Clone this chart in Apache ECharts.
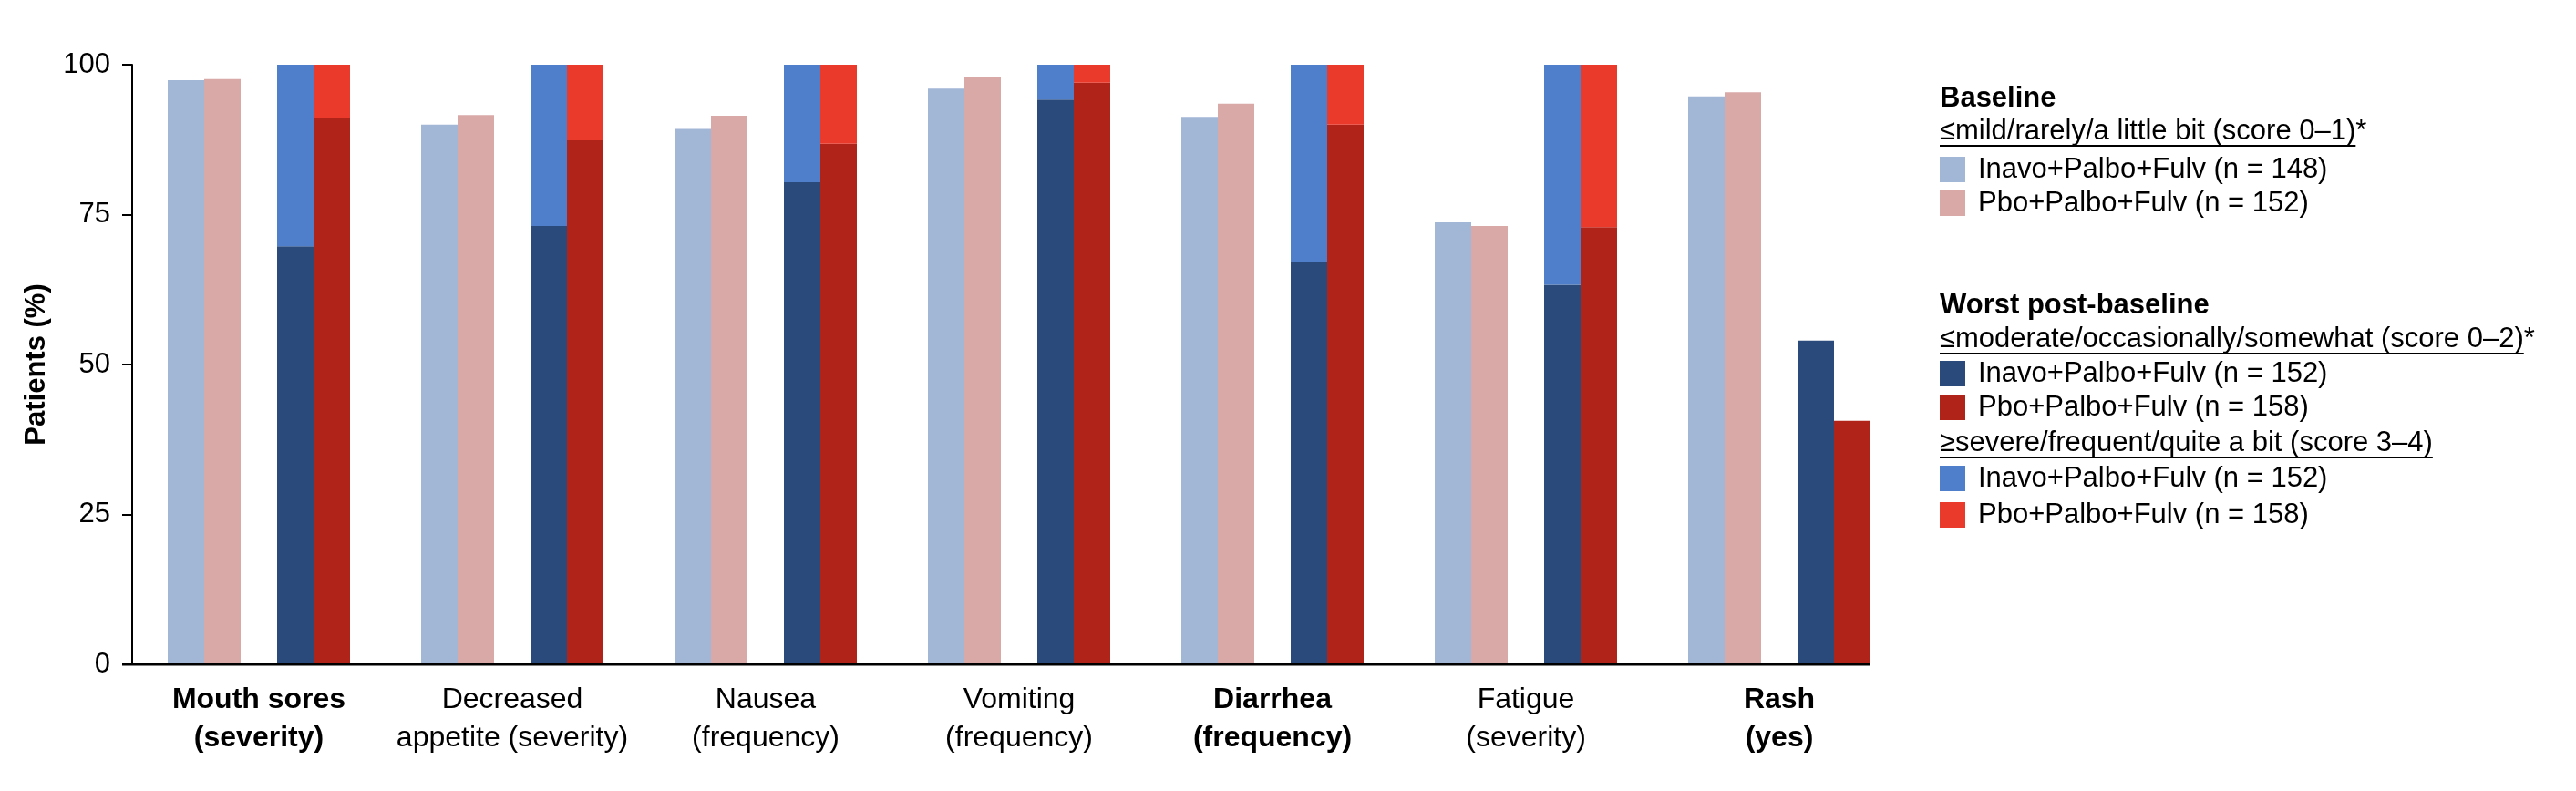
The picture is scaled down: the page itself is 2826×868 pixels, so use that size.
<!DOCTYPE html>
<html>
<head>
<meta charset="utf-8">
<script src="https://cdn.jsdelivr.net/npm/echarts@6/dist/echarts.min.js"></script>
<style>
html,body{margin:0;padding:0;background:#fff;}
#chart{width:2826px;height:868px;}
</style>
</head>
<body>
<div id="chart"></div>
<script>
// ---- data ----
const categories = ['Mouth sores\n(severity)', 'Decreased\nappetite (severity)', 'Nausea\n(frequency)', 'Vomiting\n(frequency)', 'Diarrhea\n(frequency)', 'Fatigue\n(severity)', 'Rash\n(yes)'];
const boldCategories = [true, false, false, false, true, false, true];
const yTicks = [0, 25, 50, 75, 100];
const baselineInavo = [97.4, 90.0, 89.3, 96.0, 91.3, 73.7, 94.7];
const baselinePbo   = [97.6, 91.6, 91.5, 98.0, 93.5, 73.1, 95.4];
const postModInavo  = [69.7, 73.1, 80.4, 94.2, 67.1, 63.3, 54.0];
const postModPbo    = [91.2, 87.4, 86.8, 97.0, 90.0, 72.9, 40.6];
const postSevInavo  = [30.3, 26.9, 19.6, 5.8, 32.9, 36.7, null];
const postSevPbo    = [8.8, 12.6, 13.2, 3.0, 10.0, 27.1, null];
const spacer        = [null, null, null, null, null, null, null];

const nameBI = 'Inavo+Palbo+Fulv (n = 148)';
const nameBP = 'Pbo+Palbo+Fulv (n = 152)';
const namePI = 'Inavo+Palbo+Fulv (n = 152)';
const namePP = 'Pbo+Palbo+Fulv (n = 158)';

const C = {
  bi: '#A2B6D6', bp: '#D9A9A8',
  mi: '#2A4A7B', mp: '#AF2318',
  si: '#4F7FCA', sp: '#EA3A2C'
};
const FONT = "'Liberation Sans', Arial, Helvetica, sans-serif";
const FS = 31;
const BAR_W = 40;
const N_SLOTS = 5;

const chart = echarts.init(document.getElementById('chart'), null, {renderer: 'canvas'});

function legendItem(name, color, centerY) {
  return {
    show: true, selectedMode: false, orient: 'vertical',
    left: 2128, top: centerY - 15.5, padding: 0,
    itemWidth: 28, itemHeight: 28, icon: 'rect',
    textStyle: {fontFamily: FONT, fontSize: FS, color: '#000', padding: [0, 0, 0, 9]},
    data: [{name: name, itemStyle: {color: color}}]
  };
}

function barSeries(name, stack, data, color) {
  return {name: name, type: 'bar', stack: stack, data: data, barWidth: BAR_W, barGap: '0%',
          itemStyle: {color: color, borderWidth: 0}};
}

const option = {
  backgroundColor: '#fff',
  animation: false,
  textStyle: {fontFamily: FONT},
  grid: {left: 145, top: 71, width: 1946, height: 658, containLabel: false},
  legend: [
    legendItem(nameBI, C.bi, 186),
    legendItem(nameBP, C.bp, 223),
    legendItem(namePI, C.mi, 410),
    legendItem(namePP, C.mp, 447),
    legendItem(namePI, C.si, 525),
    legendItem(namePP, C.sp, 565)
  ],
  xAxis: {
    type: 'category',
    data: categories,
    axisLine: {show: false},
    axisTick: {show: false},
    axisLabel: {
      interval: 0,
      margin: 18,
      color: '#000',
      fontFamily: FONT,
      fontSize: 32,
      lineHeight: 42,
      formatter: function (v, i) {
        const lines = v.split('\n');
        const key = boldCategories[i] ? 'b' : 'n';
        return lines.map(l => '{' + key + '|' + l + '}').join('\n');
      },
      rich: {
        b: {fontFamily: FONT, fontSize: 32, fontWeight: 'bold', color: '#000', lineHeight: 42},
        n: {fontFamily: FONT, fontSize: 32, color: '#000', lineHeight: 42}
      }
    }
  },
  yAxis: {
    type: 'value',
    min: yTicks[0], max: yTicks[yTicks.length - 1], interval: 25,
    name: 'Patients (%)',
    nameLocation: 'middle',
    nameRotate: 90,
    nameGap: 89,
    nameTextStyle: {fontFamily: FONT, fontSize: 31, fontWeight: 'bold', color: '#000'},
    axisLine: {show: true, lineStyle: {color: '#000', width: 2}},
    axisTick: {show: true, length: 11, lineStyle: {color: '#000', width: 2}},
    axisLabel: {margin: 24, color: '#000', fontFamily: FONT, fontSize: 31},
    splitLine: {show: false}
  },
  series: [
    barSeries(nameBI, 'b1', baselineInavo, C.bi),
    barSeries(nameBP, 'b2', baselinePbo, C.bp),
    barSeries('spacer', 'sp', spacer, 'rgba(0,0,0,0)'),
    barSeries(namePI, 'p1', postModInavo, C.mi),
    barSeries(namePP, 'p2', postModPbo, C.mp),
    barSeries(namePI, 'p1', postSevInavo, C.si),
    barSeries(namePP, 'p2', postSevPbo, C.sp)
  ]
};
chart.setOption(option);

// measure text widths for underlines
const cv = document.createElement('canvas').getContext('2d');
cv.font = FS + 'px ' + FONT;
function tw(t) { return cv.measureText(t).width; }

const LX = 2128;
const sub1 = '\u2264mild/rarely/a little bit (score 0\u20131)';
const sub2 = '\u2264moderate/occasionally/somewhat (score 0\u20132)';
const sub3 = '\u2265severe/frequent/quite a bit (score 3\u20134)';

// x-axis line from tick end to the right edge of the last bar group
const p0 = chart.convertToPixel({xAxisIndex: 0}, categories[0]);
const p1 = chart.convertToPixel({xAxisIndex: 0}, categories[1]);
const pl = chart.convertToPixel({xAxisIndex: 0}, categories[categories.length - 1]);
const band = p1 - p0;
const xEnd = pl + BAR_W * N_SLOTS / 2;
const yZero = chart.convertToPixel({yAxisIndex: 0}, 0);
const yAxisX = p0 - band / 2;

function txt(t, y, bold) {
  return {type: 'text', style: {text: t, x: LX, y: y, font: (bold ? 'bold ' : '') + FS + 'px ' + FONT, fill: '#000', verticalAlign: 'middle', align: 'left'}};
}
function uline(w, y) {
  return {type: 'line', shape: {x1: LX, y1: y, x2: LX + w, y2: y}, style: {stroke: '#000', lineWidth: 2}};
}

chart.setOption({
  graphic: [
    {type: 'line', shape: {x1: yAxisX - 11, y1: yZero, x2: xEnd, y2: yZero}, style: {stroke: '#000', lineWidth: 3}, z: 10},
    txt('Baseline', 108, true),
    txt(sub1 + '*', 144, false),
    uline(tw(sub1), 160),
    txt('Worst post-baseline', 335, true),
    txt(sub2 + '*', 372, false),
    uline(tw(sub2), 388),
    txt(sub3, 486, false),
    uline(tw(sub3), 502)
  ]
});
</script>
</body>
</html>
